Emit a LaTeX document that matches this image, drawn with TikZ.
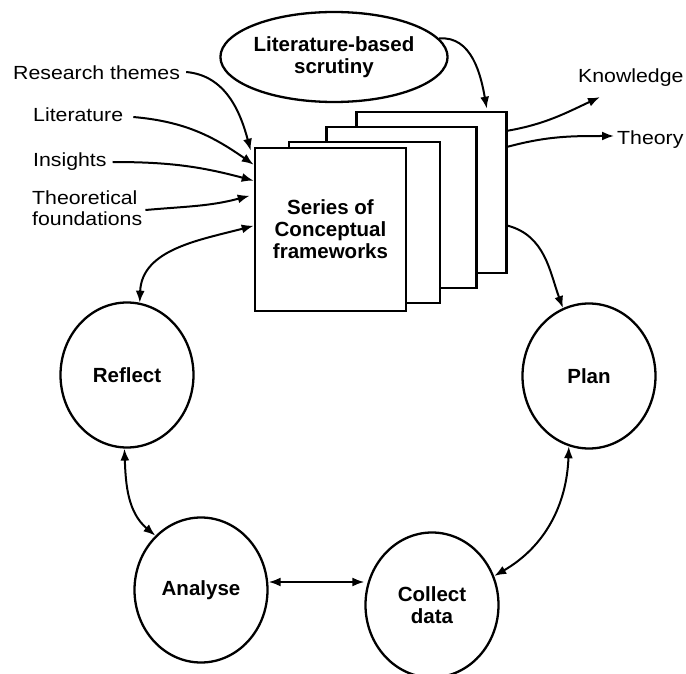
\documentclass[tikz,border=0pt]{standalone}
\usepackage{fontspec}
\setmainfont{Liberation Sans}
\newfontfamily\lblfam{Liberation Sans}[FakeStretch=1.12]
\usetikzlibrary{arrows.meta,shapes.geometric}
\begin{document}
\begin{tikzpicture}[x=1pt,y=1pt,
  lbl/.style={inner sep=0pt, font=\lblfam\fontsize{19}{21}\selectfont, align=left},
  boldtxt/.style={font=\bfseries\fontsize{20.5}{22}\selectfont, align=center},
  circ/.style={draw, line width=2.3pt, ellipse, minimum width=133pt, minimum height=145pt, inner sep=0pt, boldtxt},
  page/.style={draw, line width=2.6pt, fill=white, minimum width=150pt, minimum height=161pt, inner sep=0pt},
  arr/.style={line width=2pt, -{Latex[length=12pt,width=9pt]}},
  darr/.style={line width=2pt, {Latex[length=12pt,width=9pt]}-{Latex[length=12pt,width=9pt]}},
]
\useasboundingbox (0,0) rectangle (686,-674);

% stack of pages
\node[page] (p4) at (431.5,-192.5) {};
\node[page] (p3) at (401.5,-207.5) {};
\node[page, minimum width=151pt] (p2) at (364.5,-222.5) {};
\node[page, minimum width=151pt, minimum height=163pt, boldtxt] (front) at (330.5,-229.5) {Series of\\Conceptual\\frameworks};

% ellipse
\node[draw, ellipse, line width=2.3pt, minimum width=170pt, minimum height=90pt, inner sep=0pt, boldtxt] (lbs) at (334,-57) {Literature-based\\scrutiny};

% cycle nodes
\node[circ] (reflect) at (127,-375) {Reflect};
\node[circ] (plan) at (589,-376) {Plan};
\node[circ] (ana) at (201,-590) {Analyse};
\node[circ] (col) at (432,-605) {Collect\\data};

% labels
\node[lbl, anchor=west] (rt) at (13,-73) {Research themes};
\node[lbl, anchor=west] (li) at (33,-115) {Literature};
\node[lbl, anchor=west] (ins) at (33,-162) {Insights};
\node[lbl, anchor=west] (tf) at (32,-208) {Theoretical\\foundations};
\node[lbl, anchor=west] (kn) at (578,-78) {Knowledge};
\node[lbl, anchor=west] (th) at (617,-140) {Theory};

% inputs
\draw[arr] ([xshift=6pt,yshift=1pt]rt.east) to[out=-5,in=105] ([xshift=-3pt,yshift=-4pt]front.north west);
\draw[arr] ([xshift=10pt,yshift=-2pt]li.east) to[out=-5,in=145] ([yshift=-18pt]front.north west);
\draw[arr] ([xshift=6pt]ins.east) to[out=0,in=165] ([yshift=-34pt]front.north west);
\draw[arr] ([xshift=3pt,yshift=-2pt]tf.east) to[out=5,in=195] ([xshift=-4pt,yshift=-49pt]front.north west);

% scrutiny and outputs
\draw[arr] (lbs.10) to[out=5,in=100] ([xshift=-21pt,yshift=2pt]p4.north east);
\draw[arr] ([yshift=-20pt]p4.north east) to[out=10,in=205] ([xshift=22pt,yshift=-10pt]kn.south west);
\draw[arr] ([yshift=-36pt]p4.north east) to[out=15,in=180] ([xshift=-3pt,yshift=4pt]th.west);

% cycle
\draw[arr] ([yshift=-115pt]p4.north east) to[out=-15,in=110] (plan.111);
\draw[darr] (reflect.80) to[out=88,in=195] ([yshift=-79pt]front.north west);
\draw[darr] (reflect.268) to[out=-88,in=140] (ana.130);
\draw[darr] ([yshift=8pt]ana.east) -- ([yshift=23pt]col.west);
\draw[darr] (plan.254) to[out=-92,in=30] (col.25);
\end{tikzpicture}
\end{document}
